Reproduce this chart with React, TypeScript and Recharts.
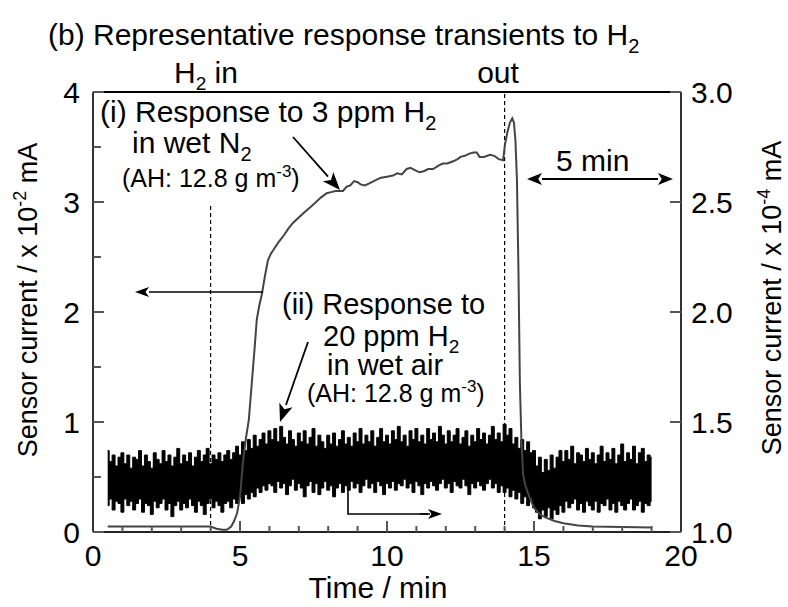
import { ComposedChart, Line, Area, XAxis, YAxis, ReferenceLine } from "recharts";

const FONT = "'Liberation Sans', Arial, Helvetica, sans-serif";

// plot box (px) — set by the margins / axis sizes below
const PL = 93;
const PR = 681;
const PT = 92;
const PB = 532;

// (i) 3 ppm H2 in wet N2, left axis (x 10^-2 mA)
const timeN2 = [
  0.5, 1, 2, 3, 3.9, 4.0, 4.2, 4.4, 4.55, 4.7, 4.8, 4.9, 5.0, 5.1, 5.2, 5.3, 5.4, 5.5,
  5.57, 5.65, 5.75, 5.85, 5.95, 6.05, 6.15, 6.3, 6.5, 6.65, 6.8, 7.0, 7.2, 7.38, 7.55,
  7.75, 7.95, 8.1, 8.25, 8.4, 8.5, 8.63, 8.75, 8.88, 9.0, 9.1, 9.25, 9.4, 9.55, 9.7, 9.8,
  10.0, 10.2, 10.35, 10.5, 10.67, 10.8, 10.95, 11.1, 11.25, 11.4, 11.57, 11.75, 11.9,
  12.05, 12.25, 12.4, 12.5, 12.65, 12.8, 12.95, 13.05, 13.15, 13.3, 13.5, 13.65, 13.8,
  13.95, 14.01, 14.1, 14.18, 14.26, 14.32, 14.37, 14.42, 14.47, 14.52, 14.57, 14.63,
  14.7, 14.8, 14.9, 15.0, 15.2, 15.4, 15.7, 16.0, 16.5, 17, 18, 19,
];
const currentN2 = [
  0.05, 0.05, 0.05, 0.05, 0.05, 0.05, 0.03, 0.02, 0.02, 0.05, 0.1, 0.17, 0.32, 0.63, 0.85, 1.02, 1.35, 1.68,
  1.93, 2.05, 2.17, 2.33, 2.47, 2.53, 2.57, 2.63, 2.7, 2.76, 2.81, 2.86, 2.91, 2.95, 2.99,
  3.04, 3.08, 3.09, 3.1, 3.1, 3.1, 3.14, 3.15, 3.19, 3.18, 3.16, 3.15, 3.17, 3.19, 3.21, 3.22,
  3.23, 3.24, 3.26, 3.25, 3.3, 3.31, 3.29, 3.27, 3.28, 3.3, 3.3, 3.33, 3.35,
  3.35, 3.37, 3.39, 3.41, 3.42, 3.44, 3.45, 3.45, 3.41, 3.41, 3.43, 3.42, 3.39,
  3.38, 3.52, 3.64, 3.72, 3.76, 3.72, 3.55, 3.2, 2.4, 1.35, 0.85, 0.52,
  0.43, 0.35, 0.28, 0.22, 0.16, 0.13, 0.1, 0.08, 0.06, 0.05, 0.045, 0.04,
];

// (ii) 20 ppm H2 in wet air, right axis (x 10^-4 mA)
// upper / lower edge of the noisy trace, every 0.1 min from 0.5 to 19.0 min
const airStart = 0.5;
const airStep = 0.1;
const airHigh = [
  1.37, 1.32, 1.35, 1.30, 1.34, 1.36, 1.31, 1.35, 1.29, 1.34,
  1.33, 1.37, 1.30, 1.35, 1.32, 1.29, 1.36, 1.33, 1.31, 1.37,
  1.32, 1.35, 1.30, 1.34, 1.38, 1.31, 1.35, 1.32, 1.36, 1.30,
  1.34, 1.37, 1.32, 1.35, 1.38, 1.31, 1.35, 1.33, 1.36, 1.32,
  1.35,
  1.37, 1.33, 1.36, 1.39, 1.35, 1.41, 1.37, 1.42, 1.38, 1.44, 1.39, 1.42, 1.45, 1.40, 1.46,
  1.42, 1.47, 1.41, 1.48, 1.43, 1.40, 1.46, 1.42, 1.39, 1.45,
  1.41, 1.46, 1.40, 1.43, 1.47, 1.39, 1.44, 1.41, 1.38, 1.44,
  1.40, 1.45, 1.39, 1.42, 1.46, 1.40, 1.43, 1.39, 1.45, 1.41,
  1.47, 1.40, 1.44, 1.41, 1.46, 1.39, 1.43, 1.47, 1.41, 1.44,
  1.40, 1.46, 1.42, 1.48, 1.41, 1.44, 1.39, 1.46, 1.42, 1.47,
  1.41, 1.44, 1.40, 1.47, 1.42, 1.45, 1.41, 1.48, 1.44, 1.40,
  1.46, 1.41, 1.44, 1.47, 1.40, 1.43, 1.46, 1.39, 1.44, 1.41,
  1.47, 1.42, 1.45, 1.40, 1.44, 1.48, 1.42, 1.45, 1.41, 1.49,
  1.44, 1.47, 1.40, 1.43, 1.38, 1.42, 1.37, 1.41, 1.36, 1.37,
  1.30, 1.34, 1.27, 1.33, 1.28, 1.35, 1.29, 1.34,
  1.37, 1.32, 1.37, 1.33, 1.39, 1.31, 1.36, 1.35, 1.32, 1.38,
  1.33, 1.36, 1.31, 1.35, 1.39, 1.32, 1.36, 1.33, 1.38, 1.31,
  1.35, 1.40, 1.32, 1.36, 1.33, 1.39, 1.31, 1.36, 1.38, 1.32,
  1.35, 1.34,
];
const airLow = [
  1.12, 1.15, 1.10, 1.14, 1.13, 1.09, 1.15, 1.12, 1.14, 1.10,
  1.13, 1.15, 1.09, 1.13, 1.12, 1.08, 1.14, 1.11, 1.13, 1.15,
  1.10, 1.13, 1.07, 1.12, 1.14, 1.10, 1.13, 1.11, 1.15, 1.12,
  1.09, 1.14, 1.12, 1.08, 1.13, 1.15, 1.11, 1.14, 1.12, 1.09,
  1.13,
  1.14, 1.11, 1.15, 1.13, 1.16, 1.13, 1.17, 1.15, 1.18, 1.16, 1.20, 1.18, 1.21, 1.19, 1.22,
  1.21, 1.18, 1.23, 1.20, 1.22, 1.17, 1.21, 1.24, 1.19, 1.22,
  1.20, 1.16, 1.21, 1.23, 1.18, 1.22, 1.17, 1.20, 1.23, 1.19,
  1.21, 1.16, 1.20, 1.22, 1.18, 1.21, 1.19, 1.23, 1.20, 1.22,
  1.18, 1.21, 1.24, 1.20, 1.22, 1.18, 1.23, 1.21, 1.17, 1.22,
  1.20, 1.23, 1.19, 1.22, 1.21, 1.24, 1.20, 1.22, 1.18, 1.23,
  1.21, 1.17, 1.22, 1.20, 1.23, 1.21, 1.19, 1.22, 1.24, 1.20,
  1.22, 1.18, 1.23, 1.21, 1.20, 1.24, 1.21, 1.17, 1.22, 1.20,
  1.23, 1.21, 1.19, 1.22, 1.24, 1.20, 1.22, 1.18, 1.21, 1.18,
  1.20, 1.16, 1.19, 1.15, 1.18, 1.13, 1.16, 1.12, 1.15, 1.11,
  1.09, 1.06, 1.10, 1.07, 1.11, 1.06, 1.10, 1.08,
  1.12, 1.09, 1.14, 1.11, 1.13, 1.15, 1.10, 1.13, 1.09, 1.14,
  1.12, 1.10, 1.14, 1.09, 1.13, 1.12, 1.15, 1.10, 1.13, 1.09,
  1.14, 1.12, 1.10, 1.13, 1.15, 1.10, 1.12, 1.14, 1.09, 1.13,
  1.12, 1.14,
];

const xTicks = [0, 1, 2, 3, 4, 5, 6, 7, 8, 9, 10, 11, 12, 13, 14, 15, 16, 17, 18, 19, 20];
const leftTicks = [0, 0.5, 1, 1.5, 2, 2.5, 3, 3.5, 4];
const rightTicks = [1, 1.5, 2, 2.5, 3];

const gasIn = 4;
const gasOut = 14;

// merge both traces into one table on the time axis
const rowMap = new Map<number, any>();
timeN2.forEach((t, i) => {
  const r = rowMap.get(t) ?? { t };
  r.n2 = currentN2[i];
  rowMap.set(t, r);
});
airHigh.forEach((h, i) => {
  const t = Math.round((airStart + i * airStep) * 100) / 100;
  const r = rowMap.get(t) ?? { t };
  r.air = [airLow[i], h];
  rowMap.set(t, r);
});
const rows = [...rowMap.values()].sort((a, b) => a.t - b.t);

const TICK_FS = 30;

function LeftTick({ y, payload }: any) {
  const v = payload.value;
  const major = Number.isInteger(v);
  return (
    <g>
      <line x1={PL} x2={PL + (major ? 11 : 8)} y1={y} y2={y} stroke="#555" strokeWidth={2} />
      {major && (
        <text x={PL - 13} y={y + 11} textAnchor="end" fontSize={TICK_FS} fontFamily={FONT} fill="#000">
          {v}
        </text>
      )}
    </g>
  );
}

function RightTick({ y, payload }: any) {
  const v = payload.value;
  return (
    <g>
      <line x1={PR} x2={PR - 11} y1={y} y2={y} stroke="#555" strokeWidth={2} />
      <text x={PR + 10} y={y + 11} textAnchor="start" fontSize={TICK_FS} fontFamily={FONT} fill="#000">
        {v.toFixed(1)}
      </text>
    </g>
  );
}

function BottomTick({ x, payload }: any) {
  const v = payload.value;
  const major = v % 5 === 0;
  return (
    <g>
      {v > 0 && v < 20 && (
        <line x1={x} x2={x} y1={PB} y2={PB - (major ? 11 : 6)} stroke="#555" strokeWidth={2} />
      )}
      {major && (
        <text x={x} y={PB + 34} textAnchor="middle" fontSize={TICK_FS} fontFamily={FONT} fill="#000">
          {v}
        </text>
      )}
    </g>
  );
}

function head(x1: number, y1: number, x2: number, y2: number, len: number, half: number) {
  const d = Math.hypot(x2 - x1, y2 - y1);
  const ux = (x2 - x1) / d;
  const uy = (y2 - y1) / d;
  const bx = x2 - ux * len;
  const by = y2 - uy * len;
  const pts = [
    [x2, y2],
    [bx - uy * half, by + ux * half],
    [x2 - ux * len * 0.75, y2 - uy * len * 0.75],
    [bx + uy * half, by - ux * half],
  ];
  return { pts: pts.map((p) => p.join(",")).join(" "), bx, by };
}

function Arrow({ x1, y1, x2, y2, len = 17, half = 6, both = false, w = 1.8 }: any) {
  const a = head(x1, y1, x2, y2, len, half);
  const b = both ? head(x2, y2, x1, y1, len, half) : null;
  return (
    <g>
      <line x1={b ? b.bx : x1} y1={b ? b.by : y1} x2={a.bx} y2={a.by} stroke="#000" strokeWidth={w} />
      <polygon points={a.pts} fill="#000" />
      {b && <polygon points={b.pts} fill="#000" />}
    </g>
  );
}

function Overlay() {
  const t = { fontFamily: FONT, fill: "#000" };
  return (
    <svg
      width={788}
      height={607}
      style={{ position: "absolute", left: 0, top: 0, pointerEvents: "none" }}
    >
      <text x={48} y={45} fontSize={30} {...t}>
        (b) Representative response transients to H<tspan fontSize={20} dy={8}>2</tspan>
      </text>
      <text x={174} y={83} fontSize={30} {...t}>
        H<tspan fontSize={19} dy={7}>2</tspan>
        <tspan dy={-7}> in</tspan>
      </text>
      <text x={498} y={83} fontSize={30} textAnchor="middle" {...t}>
        out
      </text>

      <text x={100} y={122} fontSize={30} {...t}>
        (i) Response to 3 ppm H<tspan fontSize={20} dy={8}>2</tspan>
      </text>
      <text x={132} y={153} fontSize={30} {...t}>
        in wet N<tspan fontSize={20} dy={8}>2</tspan>
      </text>
      <text x={122} y={187} fontSize={25} {...t}>
        (AH: 12.8 g m<tspan fontSize={17} dy={-10}>-3</tspan>
        <tspan dy={10}>)</tspan>
      </text>
      <Arrow x1={293} y1={137} x2={340} y2={190} len={18} half={7} />

      <text x={282} y={314} fontSize={29} {...t}>
        (ii) Response to
      </text>
      <text x={323} y={346} fontSize={29} {...t}>
        20 ppm H<tspan fontSize={19} dy={7}>2</tspan>
      </text>
      <text x={327} y={375} fontSize={29} {...t}>
        in wet air
      </text>
      <text x={307} y={402} fontSize={25} {...t}>
        (AH: 12.8 g m<tspan fontSize={17} dy={-10}>-3</tspan>
        <tspan dy={10}>)</tspan>
      </text>
      <Arrow x1={308} y1={342} x2={280} y2={422} len={18} half={7} />

      <Arrow x1={263} y1={292} x2={135} y2={292} len={14} half={5} w={1.6} />
      <polyline points="348,490 348,514 430,514" fill="none" stroke="#000" strokeWidth={1.6} />
      <Arrow x1={420} y1={514} x2={442} y2={514} len={14} half={5} w={1.6} />

      <text x={556} y={171} fontSize={30} {...t}>
        5 min
      </text>
      <Arrow x1={527} y1={179} x2={673} y2={179} len={15} half={6} both w={2} />

      <text x={378} y={598} fontSize={30} textAnchor="middle" {...t}>
        Time / min
      </text>
      <text
        transform="translate(37,300) rotate(-90)"
        fontSize={27}
        textAnchor="middle"
        {...t}
      >
        Sensor current / x 10<tspan fontSize={18} dy={-11}>-2</tspan>
        <tspan dy={11}> mA</tspan>
      </text>
      <text
        transform="translate(781,298) rotate(-90)"
        fontSize={27}
        textAnchor="middle"
        {...t}
      >
        Sensor current / x 10<tspan fontSize={18} dy={-11}>-4</tspan>
        <tspan dy={11}> mA</tspan>
      </text>
    </svg>
  );
}

export default function App() {
  return (
    <div style={{ position: "absolute", left: 0, top: 0, width: 788, height: 607, background: "#fff" }}>
      <ComposedChart
        width={788}
        height={607}
        data={rows}
        margin={{ top: PT, right: 0, bottom: 0, left: 0 }}
      >
        <XAxis
          dataKey="t"
          type="number"
          domain={[0, 20]}
          ticks={xTicks}
          interval={0}
          height={607 - PB}
          tickLine={false}
          axisLine={{ stroke: "#222", strokeWidth: 2 }}
          tick={(p: any) => <BottomTick {...p} />}
        />
        <YAxis
          yAxisId="L"
          domain={[0, 4]}
          ticks={leftTicks}
          interval={0}
          width={PL}
          tickLine={false}
          axisLine={{ stroke: "#333", strokeWidth: 2 }}
          tick={(p: any) => <LeftTick {...p} />}
        />
        <YAxis
          yAxisId="R"
          orientation="right"
          domain={[1, 3]}
          ticks={rightTicks}
          interval={0}
          width={788 - PR}
          tickLine={false}
          axisLine={{ stroke: "#333", strokeWidth: 2 }}
          tick={(p: any) => <RightTick {...p} />}
        />
        <ReferenceLine yAxisId="L" y={4} stroke="#000" strokeWidth={2} />
        <ReferenceLine
          yAxisId="L"
          segment={[
            { x: gasIn, y: 0 },
            { x: gasIn, y: 2.97 },
          ]}
          stroke="#000"
          strokeWidth={1.2}
          strokeDasharray="4 3"
        />
        <ReferenceLine
          yAxisId="L"
          segment={[
            { x: gasOut, y: 0 },
            { x: gasOut, y: 4 },
          ]}
          stroke="#000"
          strokeWidth={1.2}
          strokeDasharray="4 3"
        />
        <Line
          yAxisId="L"
          dataKey="n2"
          type="linear"
          stroke="#444"
          strokeWidth={2}
          dot={false}
          activeDot={false}
          connectNulls
          isAnimationActive={false}
        />
        <Area
          yAxisId="R"
          dataKey="air"
          type="step"
          stroke="#000"
          strokeWidth={1}
          fill="#000"
          fillOpacity={1}
          dot={false}
          activeDot={false}
          connectNulls
          isAnimationActive={false}
        />
      </ComposedChart>
      <Overlay />
    </div>
  );
}
